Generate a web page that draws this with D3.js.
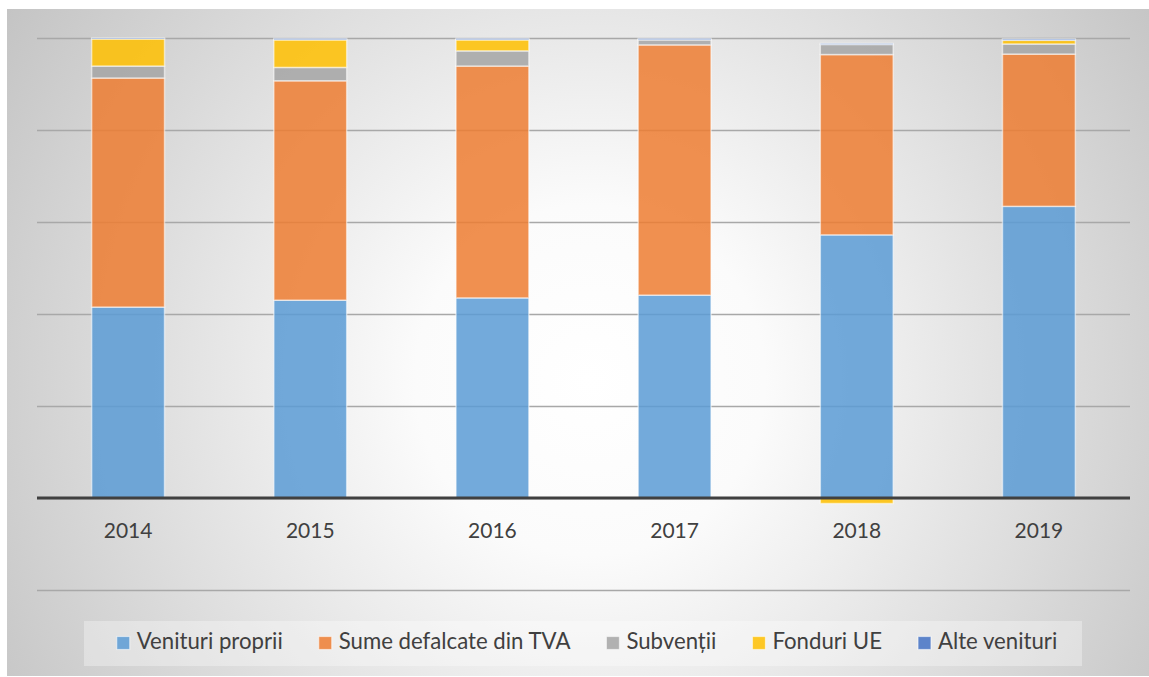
<!DOCTYPE html>
<html>
<head>
<meta charset="utf-8">
<script src="https://cdn.jsdelivr.net/npm/d3@7"></script>
<style>
  html, body { margin: 0; padding: 0; background: #fff; }
  svg { display: block; }
  text { font-family: Lato, "Open Sans", sans-serif; fill: #404040; }
</style>
</head>
<body>
<svg id="chart" width="1149" height="677"></svg>
<script>
// Structure of local budget revenues, share of total (%)
const years = ["2014", "2015", "2016", "2017", "2018", "2019"];
const seriesNames = ["Venituri proprii", "Sume defalcate din TVA", "Subvenții", "Fonduri UE", "Alte venituri"];
const venituriProprii = [41.5, 43.0, 43.5, 44.1, 57.2, 63.4];
const sumeDefalcate   = [49.8, 47.7, 50.4, 54.4, 39.2, 33.1];
const subventii       = [2.6, 2.9, 3.3, 1.1, 2.2, 2.2];
const fonduriUE       = [5.9, 6.0, 2.4, 0.0, -1.2, 0.8];
const alteVenituri    = [0.2, 0.3, 0.3, 0.3, 0.2, 0.3];
const yTicks = [-20, 0, 20, 40, 60, 80, 100];

const colors = ["#5B9BD5", "#ED7D31", "#A5A5A5", "#FFC000", "#4472C4"];
const seriesValues = [venituriProprii, sumeDefalcate, subventii, fonduriUE, alteVenituri];

const rows = years.map((y, i) => {
  const r = { year: y };
  seriesNames.forEach((n, k) => { r[n] = seriesValues[k][i]; });
  return r;
});

const svg = d3.select("#chart");
const W = 1149, H = 677;

// Chart area background: soft radial gradient
const defs = svg.append("defs");
const grad = defs.append("radialGradient")
  .attr("id", "bg").attr("gradientUnits", "userSpaceOnUse")
  .attr("cx", 590).attr("cy", 380).attr("r", 700);
grad.append("stop").attr("offset", "0").attr("stop-color", "#ffffff");
grad.append("stop").attr("offset", "0.25").attr("stop-color", "#fbfbfb");
grad.append("stop").attr("offset", "1").attr("stop-color", "#c3c3c3");

svg.append("rect")
  .attr("x", 7).attr("y", 9).attr("width", W - 7).attr("height", H - 10)
  .attr("fill", "url(#bg)");

const left = 37, right = 1130;
const x = d3.scaleBand().domain(years).range([left, right])
  .paddingInner(0.6).paddingOuter(0.3);
const y = d3.scaleLinear().domain([-20, 100]).range([590, 38]);

// Horizontal gridlines
svg.append("g")
  .attr("transform", `translate(${left},0)`)
  .call(d3.axisLeft(y).tickValues(yTicks).tickSize(-(right - left)).tickFormat(""))
  .call(g => g.select(".domain").remove())
  .call(g => g.selectAll(".tick line")
    .attr("stroke", "#a8a8a8").attr("stroke-width", 1.3));

// Stacked bars (positive values up, negative values down)
const stack = d3.stack().keys(seriesNames).offset(d3.stackOffsetDiverging);
const stacked = stack(rows);

svg.append("g").selectAll("g")
  .data(stacked)
  .join("g")
  .attr("fill", (d, i) => colors[i])
  .attr("fill-opacity", 0.85)
  .selectAll("rect")
  .data(d => d)
  .join("rect")
  .attr("x", d => x(d.data.year))
  .attr("width", x.bandwidth())
  .attr("y", d => y(Math.max(d[0], d[1])))
  .attr("height", d => Math.abs(y(d[0]) - y(d[1])))
  .attr("stroke", "#ffffff")
  .attr("stroke-opacity", 0.55)
  .attr("stroke-width", 1.5);

// Category axis at zero
svg.append("line")
  .attr("x1", left).attr("x2", right)
  .attr("y1", y(0)).attr("y2", y(0))
  .attr("stroke", "#404040").attr("stroke-width", 3.2);

svg.append("g").selectAll("text")
  .data(years)
  .join("text")
  .attr("x", d => x(d) + x.bandwidth() / 2)
  .attr("y", 537.5)
  .attr("text-anchor", "middle")
  .attr("font-size", 21)
  .text(d => d);

// Legend
const legendBox = { x: 84, y: 621, w: 998, h: 45 };
svg.append("rect")
  .attr("x", legendBox.x).attr("y", legendBox.y)
  .attr("width", legendBox.w).attr("height", legendBox.h)
  .attr("fill", "#ffffff").attr("fill-opacity", 0.32);

const legend = svg.append("g");
const marker = 13, markerGap = 7, itemGap = 36;
const items = legend.selectAll("g").data(seriesNames).join("g");
items.append("rect")
  .attr("width", marker).attr("height", marker)
  .attr("y", 636.5)
  .attr("fill", (d, i) => colors[i]).attr("fill-opacity", 0.85)
  .attr("stroke", "#ffffff").attr("stroke-opacity", 0.55).attr("stroke-width", 1.2);
items.append("text")
  .attr("x", marker + markerGap)
  .attr("y", 649)
  .attr("font-size", 22.2)
  .text(d => d);

const widths = [];
items.each(function () {
  widths.push(marker + markerGap + d3.select(this).select("text").node().getComputedTextLength());
});
const total = d3.sum(widths) + itemGap * (widths.length - 1);
let cursor = 587 - total / 2;
items.attr("transform", (d, i) => {
  const t = `translate(${cursor},0)`;
  cursor += widths[i] + itemGap;
  return t;
});
</script>
</body>
</html>
